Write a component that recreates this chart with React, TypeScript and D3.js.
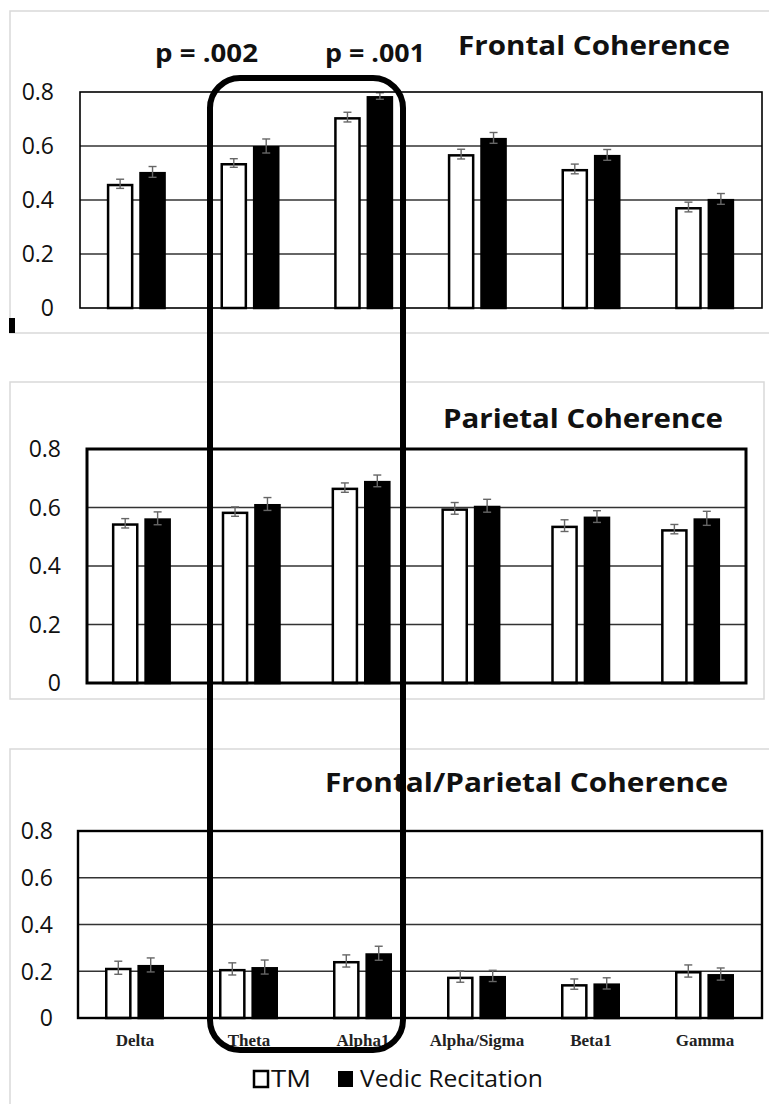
import React from "react";
import * as d3 from "d3";

const categories = ["Delta", "Theta", "Alpha1", "Alpha/Sigma", "Beta1", "Gamma"];
const series = ["TM", "Vedic Recitation"];
const yTicks = [0, 0.2, 0.4, 0.6, 0.8];

const frontalTM = [0.46, 0.537, 0.707, 0.57, 0.515, 0.374];
const frontalVR = [0.504, 0.6, 0.785, 0.63, 0.567, 0.404];
const frontalErrTM = [0.017, 0.016, 0.018, 0.018, 0.018, 0.018];
const frontalErrVR = [0.02, 0.026, 0.012, 0.02, 0.02, 0.02];

const parietalTM = [0.546, 0.586, 0.668, 0.597, 0.538, 0.526];
const parietalVR = [0.563, 0.612, 0.691, 0.606, 0.569, 0.563];
const parietalErrTM = [0.016, 0.016, 0.016, 0.02, 0.02, 0.016];
const parietalErrVR = [0.022, 0.022, 0.02, 0.022, 0.02, 0.024];

const fpTM = [0.215, 0.21, 0.244, 0.177, 0.145, 0.201];
const fpVR = [0.227, 0.218, 0.277, 0.18, 0.148, 0.188];
const fpErrTM = [0.028, 0.026, 0.026, 0.024, 0.022, 0.026];
const fpErrVR = [0.03, 0.03, 0.03, 0.024, 0.024, 0.026];

const SANS = "'Open Sans', 'DejaVu Sans', sans-serif";

type PanelProps = {
  left: number;
  right: number;
  yTop: number;
  yZero: number;
  tm: number[];
  vr: number[];
  errTM: number[];
  errVR: number[];
  labelRight: number;
  frameWidth: number;
  gridColor: string;
  title: string;
  titleX: number;
  titleY: number;
  titleW: number;
  showCats?: boolean;
};

function Panel(p: PanelProps) {
  const x = d3.scaleBand<string>().domain(categories).range([p.left, p.right]);
  const y = d3.scaleLinear().domain([0, 0.8]).range([p.yZero, p.yTop]);
  const inner = d3.scaleBand<string>().domain(series).range([-30, 29]).paddingInner(0.18);
  const bw = inner.bandwidth();
  const cx = (c: string) => (x(c) as number) + x.bandwidth() / 2;
  const sw = 2.5;
  return (
    <g>
      {yTicks.filter((t) => t > 0 && t < 0.8).map((t) => (
        <line key={t} x1={p.left} x2={p.right} y1={y(t)} y2={y(t)} stroke={p.gridColor} strokeWidth={1.6} />
      ))}
      {categories.map((c, i) => {
        const c0 = cx(c);
        const xt = c0 + (inner("TM") as number);
        const xv = c0 + (inner("Vedic Recitation") as number);
        const bars = [
          { xx: xt, v: p.tm[i], e: p.errTM[i], fill: "#fff" },
          { xx: xv, v: p.vr[i], e: p.errVR[i], fill: "#000" },
        ];
        return (
          <g key={c}>
            {bars.map((b, j) => (
              <g key={j}>
                <rect
                  x={b.xx + sw / 2}
                  y={y(b.v) + sw / 2}
                  width={bw - sw}
                  height={y(0) - y(b.v) - sw / 2}
                  fill={b.fill}
                  stroke="#000"
                  strokeWidth={sw}
                />
                <line x1={b.xx + bw / 2} x2={b.xx + bw / 2} y1={y(b.v + b.e)} y2={y(b.v - b.e)} stroke="#666" strokeWidth={1.4} />
                <line x1={b.xx + bw / 2 - 4} x2={b.xx + bw / 2 + 4} y1={y(b.v + b.e)} y2={y(b.v + b.e)} stroke="#666" strokeWidth={1.4} />
                <line x1={b.xx + bw / 2 - 4} x2={b.xx + bw / 2 + 4} y1={y(b.v - b.e)} y2={y(b.v - b.e)} stroke="#666" strokeWidth={1.4} />
              </g>
            ))}
          </g>
        );
      })}
      <rect
        x={p.left}
        y={y(0.8)}
        width={p.right - p.left}
        height={y(0) - y(0.8)}
        fill="none"
        stroke="#000"
        strokeWidth={p.frameWidth}
      />
      {yTicks.map((t) => (
        <text
          key={t}
          x={p.labelRight}
          y={y(t)}
          dy="0.36em"
          textAnchor="end"
          fontFamily={SANS}
          fontSize={23}
          fill="#111"
        >
          {t === 0 ? "0" : d3.format(".1f")(t)}
        </text>
      ))}
      <text
        x={p.titleX}
        y={p.titleY}
        fontFamily={SANS}
        fontWeight={700}
        fontSize={27}
        fill="#111"
        textLength={p.titleW}
        lengthAdjust="spacingAndGlyphs"
      >
        {p.title}
      </text>
      {p.showCats &&
        categories.map((c) => (
          <text
            key={c}
            x={cx(c)}
            y={p.yZero + 28}
            textAnchor="middle"
            fontFamily="'Liberation Serif', 'DejaVu Serif', serif"
            fontWeight={700}
            fontSize={17}
            fill="#222"
          >
            {c}
          </text>
        ))}
    </g>
  );
}

export default function App() {
  return (
    <div style={{ position: "absolute", left: 0, top: 0 }}>
      <svg width={769} height={1104} style={{ display: "block", background: "#fff" }}>
        {/* panel borders */}
        <path d="M770,11 H10 V333 H770" fill="none" stroke="#d9d9d9" strokeWidth={1.5} />
        <rect x={10} y={382} width={754} height={317} fill="none" stroke="#d9d9d9" strokeWidth={1.5} />
        <path d="M770,749 H10 V1110" fill="none" stroke="#d9d9d9" strokeWidth={1.5} />
        <rect x={9} y={318} width={6} height={15} fill="#000" />

        <Panel
          left={80}
          right={762}
          yTop={92}
          yZero={308}
          tm={frontalTM}
          vr={frontalVR}
          errTM={frontalErrTM}
          errVR={frontalErrVR}
          labelRight={54}
          frameWidth={1.6}
          gridColor="#333"
          title="Frontal Coherence"
          titleX={458}
          titleY={55}
          titleW={272}
        />
        <text x={155} y={62} fontFamily={SANS} fontWeight={700} fontSize={25} fill="#111" textLength={103} lengthAdjust="spacingAndGlyphs">p = .002</text>
        <text x={325} y={62} fontFamily={SANS} fontWeight={700} fontSize={25} fill="#111" textLength={100} lengthAdjust="spacingAndGlyphs">p = .001</text>

        <Panel
          left={87}
          right={746}
          yTop={449}
          yZero={683}
          tm={parietalTM}
          vr={parietalVR}
          errTM={parietalErrTM}
          errVR={parietalErrVR}
          labelRight={61}
          frameWidth={3}
          gridColor="#333"
          title="Parietal Coherence"
          titleX={443}
          titleY={428}
          titleW={280}
        />

        <Panel
          left={78}
          right={762}
          yTop={831}
          yZero={1018}
          tm={fpTM}
          vr={fpVR}
          errTM={fpErrTM}
          errVR={fpErrVR}
          labelRight={53}
          frameWidth={2.4}
          gridColor="#333"
          title="Frontal/Parietal Coherence"
          titleX={325}
          titleY={792}
          titleW={403}
          showCats
        />

        {/* legend */}
        <rect x={254} y={1071} width={14} height={16} fill="#fff" stroke="#000" strokeWidth={2.5} />
        <text x={271} y={1087} fontFamily={SANS} fontSize={24} fill="#111" textLength={40} lengthAdjust="spacingAndGlyphs">TM</text>
        <rect x={338} y={1071} width={15} height={16} fill="#000" />
        <text x={360} y={1087} fontFamily={SANS} fontSize={24} fill="#111" textLength={183} lengthAdjust="spacingAndGlyphs">Vedic Recitation</text>

        {/* highlight box */}
        <rect x={210} y={78} width={193} height={972} rx={30} ry={30} fill="none" stroke="#000" strokeWidth={6} />
      </svg>
    </div>
  );
}
